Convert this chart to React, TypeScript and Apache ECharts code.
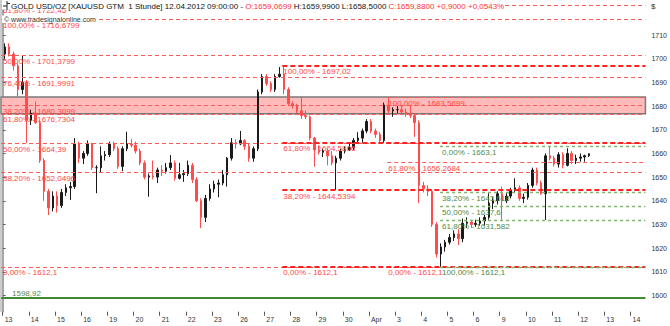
import React, { useEffect, useRef } from 'react';
import * as echarts from 'echarts';

// ---------- data ----------
const dayLabels = ['13', '14', '15', '16', '19', '20', '21', '22', '23', '26', '27', '28', '29', '30', 'Apr', '3', '4', '5', '6', '9', '10', '11', '12', '13', '14'];
const candlesPerDay = 6; // 4-hour candles
// [open, close, low, high]
const candles: number[][] = [
  // Mar 13
  [1702, 1705, 1700, 1706.5], [1705, 1702, 1701, 1706.5], [1702, 1697, 1695, 1703], [1697, 1687, 1684, 1698], [1687, 1690, 1685, 1701.5], [1690, 1674, 1664.4, 1691],
  // Mar 14
  [1674, 1677, 1672, 1678.5], [1677, 1673, 1672.5, 1682], [1673, 1657, 1656, 1674], [1657, 1644, 1640, 1658], [1644, 1637, 1634, 1645], [1637, 1642, 1635.5, 1644],
  // Mar 15
  [1642, 1638, 1635, 1644], [1638, 1643.5, 1637, 1645], [1643.5, 1645.5, 1642, 1647], [1645.5, 1646, 1640.3, 1648], [1646, 1664, 1645, 1666.5], [1664, 1658, 1656, 1665],
  // Mar 16
  [1658, 1660, 1655.5, 1661], [1660, 1664, 1659, 1665.5], [1664, 1654, 1653, 1664.5], [1654, 1654, 1643.2, 1655], [1654, 1659, 1652, 1663], [1659, 1659.5, 1657, 1661],
  // Mar 19
  [1659.5, 1664, 1658.5, 1665], [1664, 1662, 1661, 1665], [1662, 1654.5, 1653.5, 1663], [1654.5, 1662, 1652.5, 1663], [1662, 1664, 1661, 1669.2], [1664, 1663.5, 1662.5, 1666],
  // Mar 20
  [1663.5, 1661, 1660, 1665], [1661, 1656, 1655, 1662], [1656, 1650, 1649, 1657], [1650, 1650.5, 1641.7, 1651.5], [1650.5, 1650, 1649, 1657], [1650, 1653, 1647.5, 1654],
  // Mar 21
  [1653, 1652.5, 1650.5, 1655], [1652.5, 1654, 1651.5, 1656], [1654, 1656, 1653, 1659.3], [1656, 1649.5, 1648.5, 1657], [1649.5, 1651, 1649, 1656], [1651, 1651.5, 1648, 1653],
  // Mar 22
  [1651.5, 1655, 1650.5, 1657], [1655, 1649, 1647.5, 1656], [1649, 1640, 1639.5, 1650], [1640, 1633, 1628.4, 1641], [1633, 1641, 1631, 1642.5], [1641, 1645, 1640, 1647],
  // Mar 23
  [1645, 1647, 1643.5, 1648.5], [1647, 1647.5, 1641.5, 1649], [1647.5, 1651, 1646.5, 1653], [1651, 1658, 1646, 1658.5], [1658, 1664.5, 1657, 1666.5], [1664.5, 1664, 1662, 1666],
  // Mar 26
  [1664, 1665.5, 1663.5, 1669.5], [1665.5, 1663, 1661.5, 1666], [1663, 1658, 1656.5, 1664], [1658, 1662, 1656.5, 1663], [1662, 1686, 1661, 1687], [1686, 1692.5, 1685, 1693.5],
  // Mar 27
  [1692.5, 1689.5, 1688.5, 1693.5], [1689.5, 1687, 1686, 1690.5], [1687, 1692.5, 1686, 1693.5], [1692.5, 1693.5, 1692, 1696.5], [1693.5, 1687, 1685, 1697.02], [1687, 1681, 1680, 1688],
  // Mar 28
  [1681, 1680, 1679, 1682], [1680, 1678, 1677, 1681], [1678, 1676, 1674.5, 1684], [1676, 1675.5, 1674.5, 1678], [1675.5, 1666.5, 1665.5, 1676], [1666.5, 1661.5, 1654.4, 1667],
  // Mar 29
  [1661.5, 1660.5, 1659.5, 1663.5], [1660.5, 1661, 1658.5, 1662], [1661, 1659, 1655, 1662], [1659, 1656, 1655, 1661], [1656, 1658, 1644.6, 1659], [1658, 1661, 1657, 1662],
  // Mar 30
  [1661, 1661.5, 1660, 1663], [1661.5, 1662.5, 1661, 1664], [1662.5, 1665.5, 1661.5, 1666.5], [1665.5, 1666.5, 1664.5, 1669], [1666.5, 1669.5, 1664.5, 1670.5], [1669.5, 1673.5, 1668.5, 1674.5],
  // Apr 2
  [1673.5, 1669.5, 1668.5, 1674.5], [1669.5, 1668, 1666.5, 1670.5], [1668, 1665.5, 1664, 1669], [1665.5, 1680.5, 1664.5, 1681.5], [1680.5, 1678, 1677, 1683.57], [1678, 1678.5, 1675.5, 1679.5],
  // Apr 3
  [1678.5, 1678.5, 1677, 1680], [1678.5, 1677.5, 1676.5, 1680.5], [1677.5, 1676.5, 1675.5, 1679], [1676.5, 1676, 1675, 1680.5], [1676, 1673, 1667, 1677], [1673, 1646.5, 1639, 1674],
  // Apr 4
  [1646.5, 1645, 1643.5, 1648], [1645, 1644, 1642, 1646.5], [1644, 1630, 1629, 1645], [1630, 1617.5, 1616, 1631], [1617.5, 1620.5, 1612.1, 1622], [1620.5, 1622.5, 1618.5, 1623.5],
  // Apr 5
  [1622.5, 1624.5, 1621.5, 1626], [1624.5, 1626, 1623, 1627.5], [1626, 1624, 1621.3, 1628], [1624, 1630.5, 1622.5, 1632.5], [1630.5, 1631, 1628.5, 1633], [1631, 1630, 1628.5, 1632],
  // Apr 6
  [1630, 1630.5, 1629, 1632], [1630.5, 1631.5, 1629.5, 1633], [1631.5, 1633, 1629.5, 1634], [1633, 1639, 1632, 1643.2], [1639, 1640, 1636.5, 1641.5], [1640, 1643, 1638.5, 1644],
  // Apr 9
  [1643, 1640, 1632, 1646], [1640, 1642, 1639, 1643.5], [1642, 1644.5, 1641, 1645.5], [1644.5, 1645.5, 1643.5, 1649.5], [1645.5, 1641, 1640, 1646.5], [1641, 1641.5, 1639, 1643],
  // Apr 10
  [1641.5, 1646.5, 1640.5, 1647.5], [1646.5, 1653, 1645.5, 1654], [1653, 1647.5, 1646.5, 1654], [1647.5, 1643, 1642.5, 1648.5], [1643, 1659, 1631.9, 1660], [1659, 1658, 1657, 1663.1],
  // Apr 11
  [1658, 1655.5, 1654.5, 1659], [1655.5, 1659.5, 1654, 1660.5], [1659.5, 1655, 1653.7, 1660.5], [1655, 1660, 1654.5, 1662.2], [1660, 1657, 1655.5, 1661], [1657, 1658, 1655.5, 1659.5],
  // Apr 12
  [1658, 1658.5, 1656.5, 1660], [1658.5, 1659.07, 1656.5, 1659.5], [1659.07, 1659.88, 1658.5, 1659.99],
];

const priceTicks = [1600, 1610, 1620, 1630, 1640, 1650, 1660, 1670, 1680, 1690, 1700, 1710];

// Fibonacci sets
const fibLeftLevels = [1722.45, 1716.6799, 1701.3799, 1691.9991, 1680.3099, 1676.7304, 1664.39, 1652.0496, 1612.1];
const fibLeftPcts = ['61,80%', '100,00%', '50,00%', '76,40%', '38,20%', '61,80%', '50,00%', '38,20%', '0,00%'];
const fibMidLevels = [1697.02, 1664.5806, 1644.5394, 1612.1];
const fibMidPcts = ['100,00%', '61,80%', '38,20%', '0,00%'];
const fibMid2Levels = [1683.5699, 1656.2684, 1612.1];
const fibMid2Pcts = ['100,00%', '61,80%', '0,00%'];
const fibGreenLevels = [1663.1, 1643.618, 1637.6, 1631.582, 1612.1];
const fibGreenPcts = ['0,00%', '38,20%', '50,00%', '61,80%', '100,00%'];
// anchor times (in trading days from Mar 13 00:00)
const fibMidAnchor = 10.69;
const fibMid2Anchor = 14.7;
const fibGreenAnchor = 16.72;

const supportLevel = 1598.92;
const zoneLevels = [1676.8, 1683.9];

const headerMain = 'GOLD USD/OZ [XAUUSD GTM  1 Stunde] 12.04.2012 09:00:00 - ';
const headerOpen = 'O:1659,0699';
const headerHL = ' H:1659,9900 L:1658,5000 ';
const headerClose = 'C:1659,8800 +0,9000 +0,0543%';
const watermark = '\u00A9 www.tradesignalonline.com';

// ---------- view ----------
const X_MIN = -0.065;
const X_MAX = 24.57;
const Y_MIN = 1593.14;
const Y_MAX = 1724.83;
const FONT = 'Liberation Sans, Arial, sans-serif';

const fmt = (v: number) => String(v).replace('.', ',');

const RED_THIN = { color: '#ff5a5a', width: 1, type: [4, 3] as number[] };
const RED_BOLD = { color: '#ff2020', width: 2, type: [5, 3] as number[] };
const GREEN_DOT = { color: '#7fb46f', width: 1.3, type: [3, 3] as number[] };

function fibLine(v: number, x0: number, text: string, lineStyle: any, labelColor: string, dx: number, dy = 2) {
  return [
    {
      coord: [x0, v],
      lineStyle,
      label: {
        show: text !== '',
        formatter: text,
        position: 'insideStartBottom',
        distance: [dx, dy],
        color: labelColor,
        fontSize: 8,
        fontFamily: FONT,
      },
    },
    { coord: [X_MAX, v] },
  ];
}

export default function App() {
  const ref = useRef<HTMLDivElement>(null);
  useEffect(() => {
    if (!ref.current) return;
    const chart = echarts.init(ref.current, undefined, { renderer: 'svg' });

    const candleData = candles.map((c, k) => [(k + 0.5) / candlesPerDay, c[0], c[1], c[2], c[3]]);

    const lines: any[] = [];
    fibLeftLevels.forEach((v, i) =>
      lines.push(fibLine(v, X_MIN, `${fibLeftPcts[i]} - ${fmt(v)}`, RED_THIN, '#ff4848', 2, i === 0 ? 1 : 2)),
    );
    fibMid2Levels.forEach((v, i) => lines.push(fibLine(v, fibMid2Anchor, `${fibMid2Pcts[i]} - ${fmt(v)}`, RED_THIN, '#ff4848', 1)));
    fibMidLevels.forEach((v, i) => lines.push(fibLine(v, fibMidAnchor, `${fibMidPcts[i]} - ${fmt(v)}`, RED_BOLD, '#ff4848', 1)));
    fibGreenLevels.forEach((v, i) => lines.push(fibLine(v, fibGreenAnchor, `${fibGreenPcts[i]} - ${fmt(v)}`, GREEN_DOT, '#4f8a3f', 2)));
    lines.push([
      {
        coord: [X_MIN, supportLevel],
        lineStyle: { color: '#3d8b2f', width: 2, type: 'solid' },
        label: { show: true, formatter: fmt(supportLevel), position: 'insideStartTop', distance: [11, 1], color: '#5a8a4a', fontSize: 8, fontFamily: FONT },
      },
      { coord: [X_MAX, supportLevel] },
    ]);

    chart.setOption({
      animation: false,
      textStyle: { fontFamily: FONT },
      grid: { left: 1, right: 23.3, top: 0, bottom: 14.3 },
      xAxis: {
        type: 'value',
        min: X_MIN,
        max: X_MAX,
        splitLine: { show: false },
        axisLine: { show: false },
        axisTick: { show: true, length: 4, lineStyle: { color: '#555' }, customValues: dayLabels.map((_, i) => i) },
        axisLabel: {
          customValues: dayLabels.map((_, i) => i),
          formatter: (v: number) => dayLabels[Math.round(v)] ?? '',
          align: 'left',
          padding: [0, 0, 0, 2],
          margin: 4,
          fontSize: 7,
          color: '#333',
          fontFamily: FONT,
        },
      },
      yAxis: {
        type: 'value',
        position: 'right',
        min: Y_MIN,
        max: Y_MAX,
        scale: true,
        splitLine: { show: false },
        axisLine: { show: true, lineStyle: { color: '#8a8a8a', width: 1.5 } },
        axisTick: { show: true, length: 3, lineStyle: { color: '#666' }, customValues: priceTicks },
        axisLabel: {
          customValues: priceTicks,
          formatter: (v: number) => String(Math.round(v)),
          margin: 6,
          fontSize: 7,
          color: '#333',
          fontFamily: FONT,
        },
      },
      series: [
        {
          type: 'line',
          data: [],
          z: 1,
          silent: true,
          markArea: {
            silent: true,
            itemStyle: { color: '#ffbaba', borderColor: '#7a7a7a', borderWidth: 1.5 },
            data: [[{ coord: [X_MIN, zoneLevels[0]] }, { coord: [X_MAX, zoneLevels[1]] }]],
          },
          markLine: {
            silent: true,
            symbol: ['none', 'none'],
            animation: false,
            data: lines,
          },
        },
        {
          type: 'candlestick',
          z: 3,
          barWidth: 2,
          encode: { x: 0, y: [1, 2, 3, 4] },
          itemStyle: { color: '#1a1a1a', color0: '#ff4d4d', borderColor: '#1a1a1a', borderColor0: '#ff4d4d', borderWidth: 1 },
          data: candleData,
        },
      ],
      graphic: [
        { type: 'line', z: 50, shape: { x1: 1, y1: 0, x2: 1, y2: 311.7 }, style: { stroke: '#9a9a9a', lineWidth: 1 } },
        { type: 'rect', z: 90, shape: { x: 2, y: 0, width: 502, height: 9.5 }, style: { fill: '#fff' } },
        { type: 'line', z: 95, shape: { x1: 7, y1: 1, x2: 7, y2: 10 }, style: { stroke: '#222', lineWidth: 1 } },
        { type: 'line', z: 95, shape: { x1: 3, y1: 6, x2: 7, y2: 6 }, style: { stroke: '#222', lineWidth: 1 } },
        { type: 'line', z: 95, shape: { x1: 7, y1: 3.5, x2: 10, y2: 3.5 }, style: { stroke: '#222', lineWidth: 1 } },
        {
          type: 'text',
          z: 95,
          x: 11,
          y: 6,
          style: {
            text: `{k|${headerMain}}{r|${headerOpen}}{k|${headerHL}}{r|${headerClose}}`,
            verticalAlign: 'middle',
            rich: {
              k: { fill: '#111', fontSize: 8, fontFamily: FONT },
              r: { fill: '#ff3030', fontSize: 8, fontFamily: FONT },
            },
          },
        },
        { type: 'rect', z: 90, shape: { x: 2, y: 15.5, width: 96, height: 7.5 }, style: { fill: '#fff' } },
        { type: 'text', z: 95, x: 4, y: 19.3, style: { text: watermark, fill: '#333', fontSize: 7, fontFamily: FONT, verticalAlign: 'middle' } },
        { type: 'text', z: 95, x: 651, y: 6, style: { text: '$', fill: '#333', fontSize: 8, fontFamily: FONT, verticalAlign: 'middle' } },
      ],
    });
    return () => chart.dispose();
  }, []);
  return <div ref={ref} style={{ position: 'absolute', left: 0, top: 0, width: 670, height: 326, background: '#fff' }} />;
}
